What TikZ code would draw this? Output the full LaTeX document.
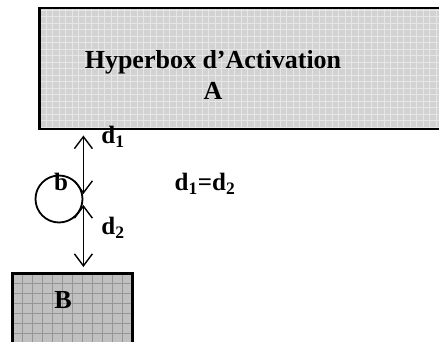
\documentclass[tikz,border=0pt]{standalone}
\usepackage{fontspec}
\setmainfont{Liberation Serif}
\usetikzlibrary{arrows.meta,positioning}

\definecolor{lightfill}{RGB}{210,210,210}
\definecolor{lightgrid}{RGB}{230,230,230}
\definecolor{darkfill}{RGB}{192,192,192}
\definecolor{darkgrid}{RGB}{150,150,150}

\begin{document}
\begin{tikzpicture}[x=1pt, y=-1pt, >={Straight Barb[length=12pt,width=18pt]},
  every node/.style={font=\bfseries\fontsize{26}{30}\selectfont},
  hyperbox/.style={draw=black, line width=2.5pt, inner sep=0pt, anchor=north west},
  lbl/.style={font=\bfseries\fontsize{25}{28}\selectfont}]
  \clip (0,0) rectangle (439,342);

  % Hyperbox A
  \node[hyperbox, fill=lightfill, minimum width=430pt, minimum height=121pt,
    path picture={\draw[lightgrid, line width=0.8pt, step=6.5pt]
      (path picture bounding box.south west) grid (path picture bounding box.north east);}]
    (boxA) at (38,7) {};
  \node (title) at (213,62) {Hyperbox d’Activation};
  \node (nameA) at (213,91) {A};

  % Hyperbox B
  \node[hyperbox, fill=darkfill, minimum width=120pt, minimum height=100pt,
    path picture={\draw[darkgrid, line width=0.6pt, step=10pt]
      (path picture bounding box.south west) grid (path picture bounding box.north east);}]
    (boxB) at (11,272) {};
  \node (nameB) at (63,300) {B};

  % point b
  \node[draw, circle, line width=1.8pt, minimum size=47pt, inner sep=0pt] (ball) at (59,199) {};
  \node[lbl] (bname) at (61,182) {b};

  % distances
  \coordinate (topA) at (ball.east |- boxA.south);
  \coordinate (topB) at (ball.east |- boxB.north);
  \draw[<->, line width=1.4pt] ([yshift=-5pt]topA) -- ([yshift=5pt]ball.east);
  \draw[<->, line width=1.4pt] ([yshift=-6pt]ball.east) -- ([yshift=5pt]topB);
  \node[lbl] (dist1) at (113,137) {d\textsubscript{1}};
  \node[lbl] (dist2) at (113,228) {d\textsubscript{2}};
  \node[lbl] (equal) at (205,184) {d\textsubscript{1}=d\textsubscript{2}};
\end{tikzpicture}
\end{document}
